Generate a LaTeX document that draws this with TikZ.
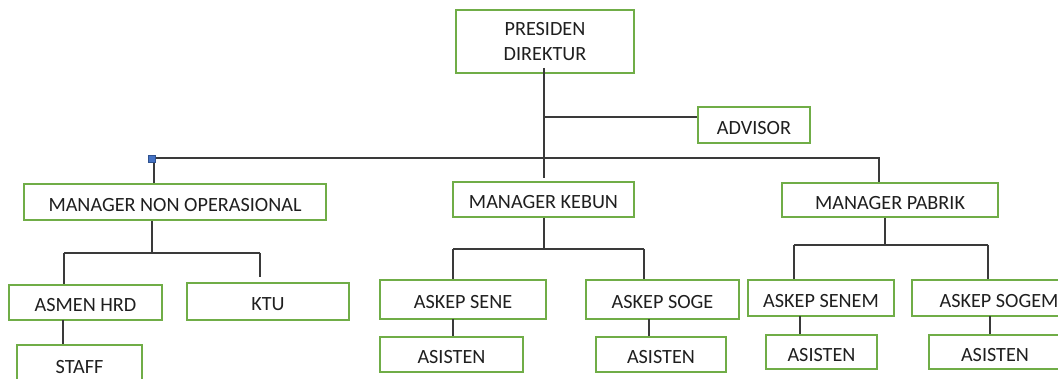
\documentclass[tikz,border=0pt]{standalone}
\usepackage{fontspec}
\setmainfont{Carlito}
\definecolor{boxgreen}{HTML}{70AD47}
\definecolor{linegray}{HTML}{3A3A3A}
\definecolor{sqblue}{HTML}{4472C4}
\definecolor{sqedge}{HTML}{2F528F}
\tikzset{
  orgbox/.style={draw=boxgreen, line width=2pt, fill=white, inner sep=0pt,
    font=\fontsize{20.2}{25}\selectfont, text=black!88, align=center,
    text height=19pt, text depth=0pt},
  conn/.style={draw=linegray, line width=1.1pt},
  handle/.style={draw=sqedge, fill=sqblue, line width=0.6pt, minimum size=7pt, inner sep=0pt}
}
\begin{document}
\begin{tikzpicture}[x=1pt,y=-1pt]
\useasboundingbox (0,0) rectangle (1058,379);
\clip (0,0) rectangle (1058,379);
\fill[white] (0,0) rectangle (1058,379);
% boxes
\node[orgbox, text height=, text depth=, minimum width=178, minimum height=63] (pd) at (545,41.5) {PRESIDEN\\DIREKTUR};
\node[orgbox, minimum width=112, minimum height=36] (adv) at (754,125) {ADVISOR};
\node[orgbox, minimum width=302, minimum height=36] (mno) at (175,202) {MANAGER NON OPERASIONAL};
\node[orgbox, minimum width=181, minimum height=35] (mk) at (543.5,199.5) {MANAGER KEBUN};
\node[orgbox, minimum width=216, minimum height=34] (mp) at (890,200) {MANAGER PABRIK};
\node[orgbox, minimum width=153, minimum height=35] (ah) at (85.5,302.5) {ASMEN HRD};
\node[orgbox, minimum width=162, minimum height=37] (ktu) at (268,301.5) {KTU};
\node[orgbox, minimum width=125, minimum height=38] (staff) at (79.5,364) {STAFF};
\node[orgbox, minimum width=166, minimum height=39] (as1) at (463,299.5) {ASKEP SENE};
\node[orgbox, minimum width=153, minimum height=39] (as2) at (662.5,299.5) {ASKEP SOGE};
\node[orgbox, minimum width=143, minimum height=35] (a1) at (451.5,354.5) {ASISTEN};
\node[orgbox, minimum width=130, minimum height=35] (a2) at (661,354.5) {ASISTEN};
\node[orgbox, minimum width=146, minimum height=36] (as3) at (821,298) {ASKEP SENEM};
\node[orgbox, minimum width=174, minimum height=36] (as4) at (999,298) {ASKEP SOGEM};
\node[orgbox, minimum width=111, minimum height=34] (a3) at (821.5,352) {ASISTEN};
\node[orgbox, minimum width=132, minimum height=34] (a4) at (995,352) {ASISTEN};
% junction coordinates
\coordinate (pdtop) at (544,68);
\coordinate (jadv) at (544,117);
\coordinate (mktop) at (544,178);
\coordinate (barL) at (154,158);
\coordinate (barR) at (879,158);
\coordinate (jmno) at (152,253);
\coordinate (jmnoL) at (64,253);
\coordinate (jmnoR) at (260,253);
\coordinate (jah) at (63,320);
\coordinate (jmk) at (544,249);
\coordinate (jmkL) at (453,249);
\coordinate (jmkR) at (644,249);
\coordinate (jas1) at (453,319);
\coordinate (jas2) at (649,319);
\coordinate (jmp) at (885,245);
\coordinate (jmpL) at (794,245);
\coordinate (jmpR) at (988,245);
\coordinate (jas3) at (800,316);
\coordinate (jas4) at (990,316);
% connectors
\draw[conn] (pdtop) -- (jadv) -- (jadv -| adv.west);
\draw[conn] (jadv) -- (mktop);
\draw[conn] (barL) -- (barR) -- (barR |- mp.north);
\draw[conn] (barL) -- (barL |- mno.north);
\draw[conn] (jmno |- mno.south) -- (jmno);
\draw[conn] (jmnoL) -- (jmnoR);
\draw[conn] (jmnoL) -- (jmnoL |- ah.north);
\draw[conn] (jmnoR) -- ([yshift=5pt]jmnoR |- ktu.north);
\draw[conn] (jah) -- (jah |- staff.north);
\draw[conn] (jmk |- mk.south) -- (jmk);
\draw[conn] (jmkL) -- (jmkR);
\draw[conn] (jmkL) -- (jmkL |- as1.north);
\draw[conn] (jmkR) -- (jmkR |- as2.north);
\draw[conn] (jas1) -- (jas1 |- a1.north);
\draw[conn] (jas2) -- (jas2 |- a2.north);
\draw[conn] (jmp |- mp.south) -- (jmp);
\draw[conn] (jmpL) -- (jmpR);
\draw[conn] (jmpL) -- (jmpL |- as3.north);
\draw[conn] (jmpR) -- (jmpR |- as4.north);
\draw[conn] (jas3) -- (jas3 |- a3.north);
\draw[conn] (jas4) -- (jas4 |- a4.north);
% handle square
\node[handle] (sq) at (152,159) {};
\end{tikzpicture}
\end{document}
